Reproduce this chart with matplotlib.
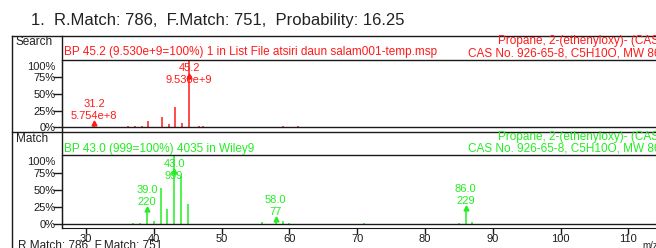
import matplotlib.pyplot as plt
from matplotlib.lines import Line2D

plt.rcParams['font.family'] = ['Liberation Sans', 'DejaVu Sans']

# search spectrum (relative %, base peak 45.2 = 9.530e+9)
search_mz = [31.2, 36.2, 37.2, 38.2, 39.2, 41.2, 42.2, 43.2, 44.2, 45.2, 46.6,
             47.3, 53.1, 55.1, 57.0, 59.0, 60.3, 61.2, 62.3, 63.2, 67.1, 68.2, 69.2, 70.2,
             73.1, 79.2, 81.2, 82.2, 83.1, 84.2, 85.1, 87.0, 95.1, 96.2, 97.1, 98.1, 109.1, 111.0]
search_int = [6.0, 0.8, 0.8, 1.0, 9.6, 14.6, 4.5, 31.0, 6.0, 100.0, 2.0,
              0.8, 0.6, 0.6, 0.6, 1.5, 0.6, 0.8, 0.6, 0.6, 0.6, 0.6, 0.6, 0.6,
              0.6, 0.6, 0.6, 0.6, 0.6, 0.6, 0.6, 0.6, 0.6, 0.6, 0.6, 0.6, 0.6, 0.6]
search_labels = {45.2: ("45.2", "9.530e+9"), 31.2: ("31.2", "5.754e+8")}

# library match (Wiley9, base peak 43 = 999)
match_mz = [37, 38, 39, 40, 41, 42, 43, 44, 45, 56, 58, 59, 60, 71, 85, 86, 87]
match_int = [1.0, 2.0, 22.0, 5.0, 53.0, 21.5, 100.0, 70.0, 29.0, 3.0, 7.7, 4.0, 1.0, 0.8, 2.0, 22.9, 3.0]
match_labels = {43: ("43.0", "999"), 39: ("39.0", "220"), 58: ("58.0", "77"), 86: ("86.0", "229")}

yticks = [0, 25, 50, 75]
ytick_labels = ["0%", "25%", "50%", "75%"]
xticks = [30, 40, 50, 60, 70, 80, 90, 100, 110]

RED = '#ff1a1a'
GREEN = '#22ee22'
DARK = '#1a1a1a'
TXT = '#222222'

W, H = 656, 248
fig = plt.figure(figsize=(W / 100, H / 100), dpi=100)


def box(x0, y0, x1, y1):
    return [x0 / W, 1 - y1 / H, (x1 - x0) / W, (y1 - y0) / H]


def line(x0, y0, x1, y1):
    fig.add_artist(Line2D([x0 / W, x1 / W], [1 - y0 / H, 1 - y1 / H], color=DARK, lw=1.0))


def ftext(x, y, s, **kw):
    fig.text(x / W, 1 - y / H, s, va='center', **kw)


def panel(ax, mz, inten, labels, color, ylow):
    ax.set_xlim(26.46, 120.56)
    ax.set_ylim(ylow, 101.5)
    ax.vlines(mz, 0, inten, color=color, lw=1.1)
    ax.axhline(0, color=DARK, lw=1.0)
    for spine in ['top', 'right', 'bottom']:
        ax.spines[spine].set_visible(False)
    ax.spines['left'].set_color(DARK)
    ax.set_yticks(yticks)
    ax.set_yticklabels(ytick_labels, fontsize=8, color=TXT)
    ax.tick_params(axis='y', direction='out', length=6.5, width=1, pad=-2, colors=DARK)
    ax.annotate("100%", xy=(0, 91), xycoords=('axes fraction', 'data'), xytext=(-7, 0),
                textcoords='offset pixels', ha='right', va='center', fontsize=8, color=TXT)
    for m, h in zip(mz, inten):
        if m in labels:
            top, bottom = labels[m]
            anchor = min(h, 61)
            ax.plot(m, min(h, 78), marker='^', ms=3.5, color=color, mec=color)
            ax.annotate(bottom, xy=(m, anchor), xytext=(0, 7), textcoords='offset pixels',
                        ha='center', va='center', fontsize=8, color=color)
            ax.annotate(top, xy=(m, anchor), xytext=(0, 19), textcoords='offset pixels',
                        ha='center', va='center', fontsize=8, color=color)


# search panel
ax1 = fig.add_axes(box(62, 60, 700, 131.5))
panel(ax1, search_mz, search_int, search_labels, RED, -6.8)
ax1.set_xticks([])

# match panel
ax2 = fig.add_axes(box(62, 155, 700, 228))
panel(ax2, match_mz, match_int, match_labels, GREEN, -5.9)
ax2.spines['bottom'].set_visible(True)
ax2.spines['bottom'].set_color(DARK)
ax2.set_xticks(xticks)
ax2.set_xticklabels([str(t) for t in xticks], fontsize=8, color=TXT)
ax2.tick_params(axis='x', direction='out', length=4.5, width=1, pad=0, colors=DARK)

# frame
line(12, 35.5, 656, 35.5)
line(12, 35.5, 12, 248)
line(62, 35.5, 62, 228)
line(62, 60, 656, 60)
line(12, 131.5, 656, 131.5)
line(62, 155, 656, 155)

# texts
ftext(31, 20, "1.  R.Match: 786,  F.Match: 751,  Probability: 16.25", fontsize=12, color=TXT)
ftext(16, 42, "Search", fontsize=8.5, color=TXT)
ftext(16, 139, "Match", fontsize=8.5, color=TXT)
ftext(64, 51.7, "BP 45.2 (9.530e+9=100%) 1 in List File atsiri daun salam001-temp.msp", fontsize=8.5, color=RED)
ftext(497.7, 41, "Propane, 2-(ethenyloxy)- (CAS)", fontsize=8.5, color=RED)
ftext(468, 53.3, "CAS No. 926-65-8, C5H10O, MW 86", fontsize=8.5, color=RED)
ftext(64, 149.3, "BP 43.0 (999=100%) 4035 in Wiley9", fontsize=8.5, color=GREEN)
ftext(498, 136.7, "Propane, 2-(ethenyloxy)- (CAS)", fontsize=8.5, color=GREEN)
ftext(468, 148.3, "CAS No. 926-65-8, C5H10O, MW 86", fontsize=8.5, color=GREEN)
ftext(18, 245, "R.Match: 786, F.Match: 751", fontsize=8.5, color=TXT)
ftext(642, 246, "m/z", fontsize=7, color=TXT)

fig.savefig("out.png", dpi=100)
